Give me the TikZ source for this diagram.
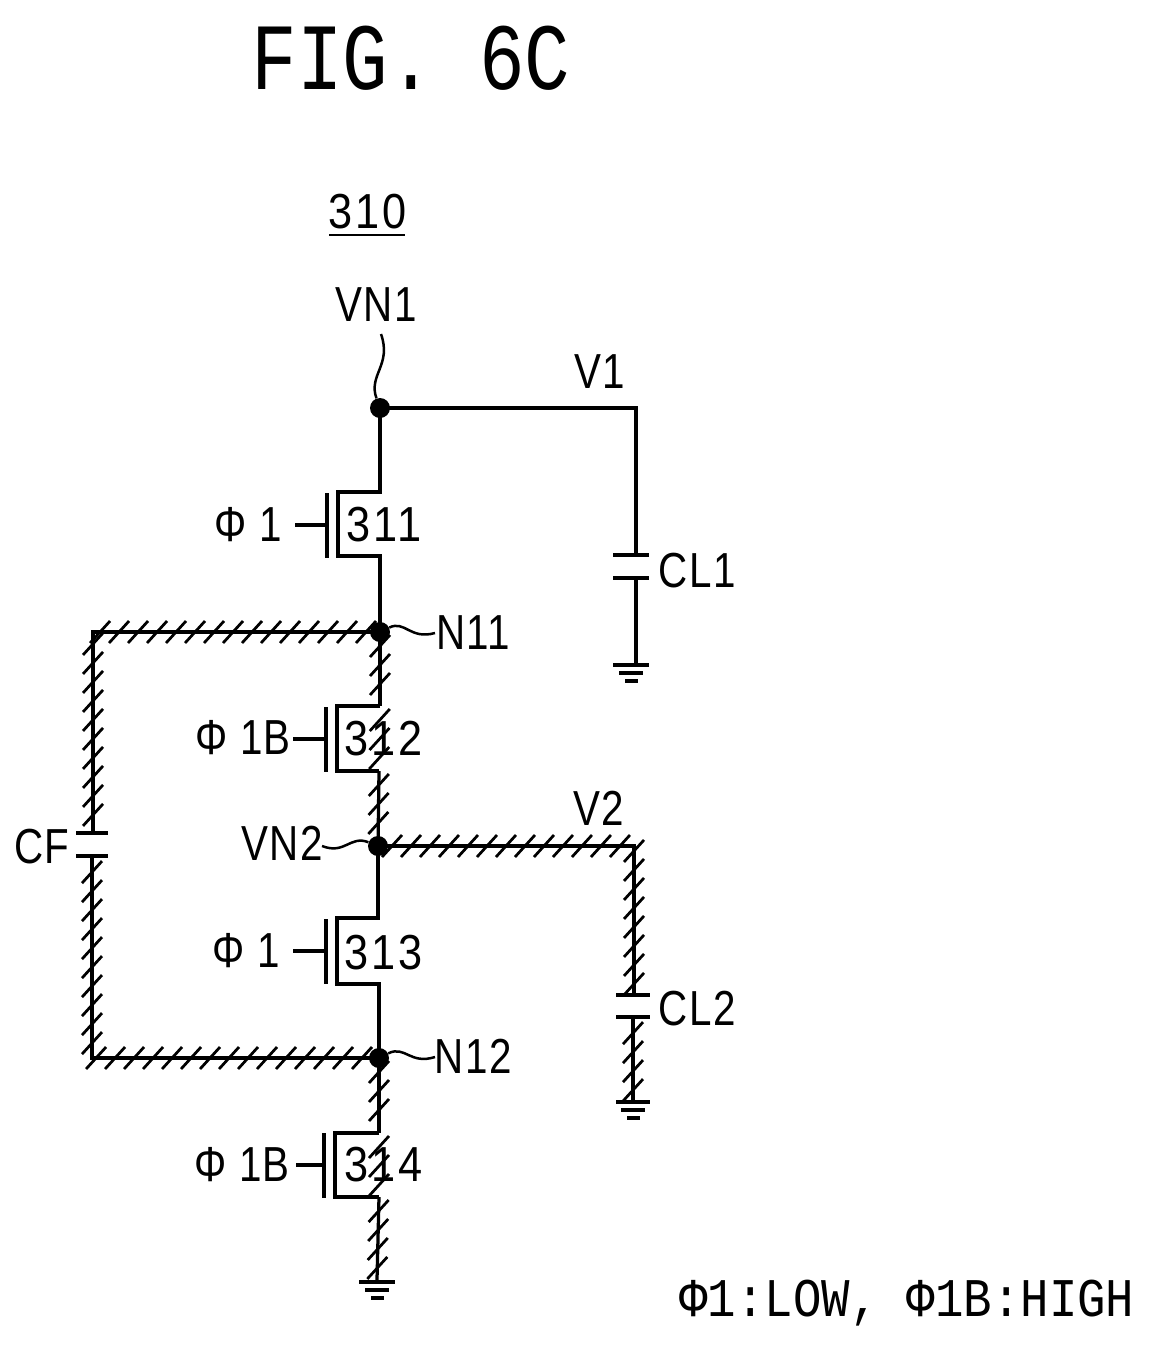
\documentclass[tikz,border=0pt]{standalone}
\usepackage{fontspec}
\setmainfont[FakeStretch=0.82,LetterSpace=3]{Liberation Sans}
\newfontfamily\titlefont[FakeStretch=0.8]{Liberation Mono}
\newfontfamily\notefont[FakeStretch=0.87]{Liberation Mono}
\newfontfamily\numfont[FakeStretch=0.88,LetterSpace=6]{Liberation Sans}
\usetikzlibrary{decorations.markings}
\tikzset{wire/.style={line width=0.065cm,line join=miter}}
\tikzset{wave/.style={line width=0.05cm}}
\tikzset{jdot/.style={circle,fill=black,inner sep=0pt,minimum size=0.4cm}}
\tikzset{plate/.style={rectangle,fill=black,inner sep=0pt,minimum width=0.72cm,minimum height=0.07cm}}
\tikzset{gatebar/.style={rectangle,fill=black,inner sep=0pt,minimum width=0.08cm,minimum height=1.3cm}}
\tikzset{lbl/.style={inner sep=0pt,font=\fontsize{28}{30}\selectfont}}
\tikzset{numlbl/.style={inner sep=0pt,font=\numfont\fontsize{28}{30}\selectfont}}
\tikzset{hatched/.style={postaction={decorate},decoration={markings,
    mark=between positions 0.28cm and -0.1cm step 0.38cm with {
      \pgftransformresetnontranslations
      \draw[line width=0.055cm] (-0.2cm,-0.22cm)--(0.2cm,0.22cm);}}}}

\begin{document}
\begin{tikzpicture}[x=0.02cm,y=-0.02cm]
  \useasboundingbox (0,0) rectangle (1150,1346);

  % title and reference number
  \node[inner sep=0pt,font=\titlefont\fontsize{54}{56}\selectfont] (title) at (411,58) {FIG. 6C};
  \node[numlbl] (ref) at (368,212) {310};
  \coordinate (refl) at (329,235);
  \coordinate (refr) at (405,235);
  \draw[line width=0.05cm] (refl)--(refr);

  % junctions
  \node[jdot] (vn1) at (380,408) {};
  \node[jdot] (n11) at (380,632) {};
  \node[jdot] (vn2) at (378,846) {};
  \node[jdot] (n12) at (379,1058) {};

  % load capacitor of the first output
  \coordinate (v1c) at (636,408);
  \node[plate] (cl1a) at (631,555) {};
  \node[plate] (cl1b) at (631,578) {};
  \node[plate] (g1a) at (631,665) {};
  \node[plate,minimum width=0.48cm] (g1b) at (631,673) {};
  \node[plate,minimum width=0.26cm] (g1c) at (631,681) {};
  \draw[wire] (vn1.center)--(v1c)--(v1c|-cl1a.north);
  \draw[wire] (g1a.north-|v1c)--(cl1b.south-|v1c);

  % transistor 311
  \coordinate (m1a) at (380,492);
  \coordinate (m1b) at (338,492);
  \coordinate (m1c) at (338,556);
  \coordinate (m1d) at (380,556);
  \node[gatebar] (g311) at (327,525) {};
  \coordinate (g311l) at (295,525);
  \draw[wire] (vn1.center)--(m1a)--(m1b)--(m1c)--(m1d)--(n11.center);
  \draw[wire] (g311l)--(g311);

  % transistor 312
  \coordinate (m2a) at (380,706);
  \coordinate (m2b) at (337,706);
  \coordinate (m2c) at (337,771);
  \coordinate (m2d) at (379,771);
  \node[gatebar] (g312) at (326,739) {};
  \coordinate (g312l) at (293,739);
  \draw[wire] (m2a)--(m2b)--(m2c)--(m2d);
  \draw[wire,hatched] (n11.center)--(m2a);
  \path[hatched] (m2a)--(m2d);
  \draw[wire,hatched] (m2d)--(vn2.center);
  \draw[wire] (g312l)--(g312);

  % transistor 313
  \coordinate (m3a) at (378,918);
  \coordinate (m3b) at (337,918);
  \coordinate (m3c) at (337,984);
  \coordinate (m3d) at (379,984);
  \node[gatebar] (g313) at (326,951) {};
  \coordinate (g313l) at (293,951);
  \draw[wire] (vn2.center)--(m3a)--(m3b)--(m3c)--(m3d)--(n12.center);
  \draw[wire] (g313l)--(g313);

  % transistor 314
  \coordinate (m4a) at (379,1133);
  \coordinate (m4b) at (335,1133);
  \coordinate (m4c) at (335,1197);
  \coordinate (m4d) at (379,1197);
  \node[gatebar] (g314) at (324,1165) {};
  \coordinate (g314l) at (296,1165);
  \node[plate] (g3a) at (377,1282) {};
  \node[plate,minimum width=0.48cm] (g3b) at (377,1290) {};
  \node[plate,minimum width=0.26cm] (g3c) at (377,1298) {};
  \draw[wire] (m4a)--(m4b)--(m4c)--(m4d);
  \draw[wire,hatched] (n12.center)--(m4a);
  \path[hatched] (m4a)--(m4d);
  \draw[wire,hatched] (m4d)--(g3a.north);
  \draw[wire] (g314l)--(g314);

  % flying capacitor
  \coordinate (cfa) at (93,632);
  \coordinate (cfb) at (92,1058);
  \node[plate,minimum width=0.66cm] (cf1) at (92,833) {};
  \node[plate,minimum width=0.66cm] (cf2) at (92,856) {};
  \draw[wire,hatched] (n11.center)--(cfa)--(cfa|-cf1.north);
  \path[hatched] (cf1)--(cf2);
  \draw[wire,hatched] (cf2.south)--(cfb)--(n12.center);

  % load capacitor of the second output
  \coordinate (v2c) at (634,846);
  \node[plate,minimum width=0.68cm] (cl2a) at (633,995) {};
  \node[plate,minimum width=0.68cm] (cl2b) at (633,1017) {};
  \node[plate,minimum width=0.68cm] (g2a) at (633,1102) {};
  \node[plate,minimum width=0.48cm] (g2b) at (633,1110) {};
  \node[plate,minimum width=0.26cm] (g2c) at (633,1118) {};
  \draw[wire,hatched] (vn2.center)--(v2c)--(v2c|-cl2a.north);
  \path[hatched] (cl2a)--(cl2b);
  \draw[wire,hatched] (cl2b.south)--(g2a.north);

  % wavy leaders
  \coordinate (wv1) at (381,334);
  \coordinate (wn11) at (435,633);
  \coordinate (wvn2) at (322,846);
  \coordinate (wn12) at (435,1057);
  \draw[wave] (wv1) .. controls (392,365) and (368,375) .. (vn1);
  \draw[wave] (n11) .. controls (405,620) and (410,640) .. (wn11);
  \draw[wave] (wvn2) .. controls (345,855) and (350,835) .. (vn2);
  \draw[wave] (n12) .. controls (405,1045) and (410,1065) .. (wn12);

  % labels
  \node[lbl] (tvn1) at (376,305) {VN1};
  \node[lbl] (tv1) at (600,372) {V1};
  \node[lbl] (tcl1) at (697,571) {CL1};
  \node[lbl] (tn11) at (473,633) {N11};
  \node[lbl] (tvn2) at (282,843) {VN2};
  \node[lbl] (tv2) at (599,808) {V2};
  \node[lbl] (tcf) at (42,847) {CF};
  \node[lbl] (tcl2) at (697,1009) {CL2};
  \node[lbl] (tn12) at (473,1056) {N12};
  \node[lbl] (p311) at (248,525) {Φ 1};
  \node[numlbl] (t311) at (384,525) {311};
  \node[lbl] (p312) at (243,738) {Φ 1B};
  \node[numlbl] (t312) at (384,739) {312};
  \node[lbl] (p313) at (246,951) {Φ 1};
  \node[numlbl] (t313) at (384,953) {313};
  \node[lbl] (p314) at (242,1165) {Φ 1B};
  \node[numlbl] (t314) at (384,1165) {314};
  \node[inner sep=0pt,font=\notefont\fontsize{31}{33}\selectfont] (note) at (907,1303) {Φ1:LOW, Φ1B:HIGH};
\end{tikzpicture}
\end{document}
